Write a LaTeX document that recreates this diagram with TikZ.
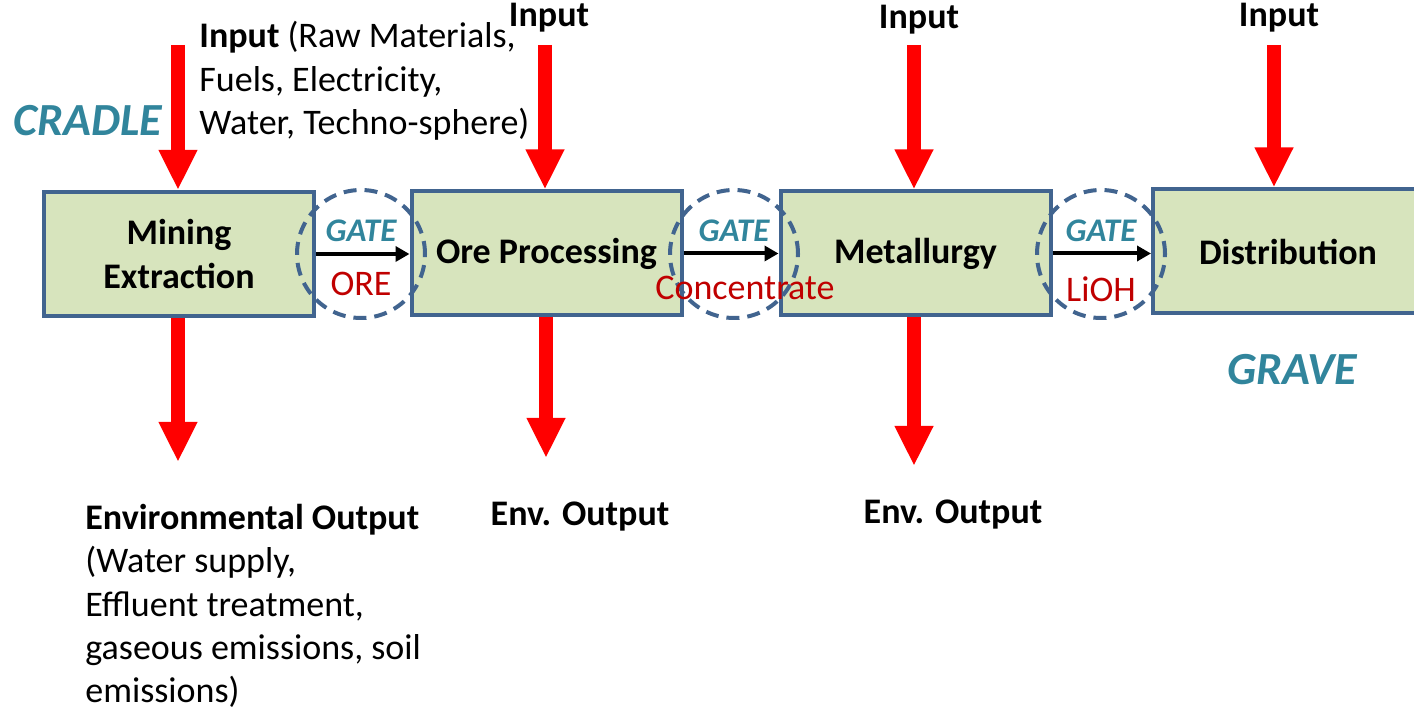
\documentclass[tikz,border=0pt]{standalone}
\usepackage{fontspec}
\setmainfont{Carlito}
\usetikzlibrary{arrows.meta}
\definecolor{boxgreen}{HTML}{D7E4BD}
\definecolor{boxblue}{HTML}{41648F}
\definecolor{gateteal}{HTML}{31859C}
\definecolor{gatered}{HTML}{C00000}
\newcommand\bodysize{\fontsize{18}{21.7}\selectfont}
\tikzset{
  stage/.style={shape=rectangle, draw=boxblue, fill=boxgreen, line width=2pt,
    minimum width=135pt, minimum height=62pt, align=center, font=\bodysize\bfseries},
  gatering/.style={shape=circle, draw=boxblue, line width=2pt,
    dash pattern=on 6.5pt off 4pt, minimum size=64pt},
  flow/.style={-{Triangle[length=20pt,width=18pt]}, line width=7pt, red},
  product/.style={-{Triangle[length=7pt,width=7.5pt]}, line width=2pt, black},
  gatetext/.style={font=\fontsize{16.5}{19}\selectfont\bfseries\itshape, text=gateteal},
  prodtext/.style={font=\bodysize, text=gatered},
  phase/.style={font=\fontsize{23}{27}\selectfont\bfseries\itshape, text=gateteal},
  note/.style={font=\bodysize, anchor=west, align=left, inner sep=0pt},
  heading/.style={font=\bodysize\bfseries}
}
\begin{document}
\begin{tikzpicture}[x=0.5pt, y=-0.5pt]
  \useasboundingbox (0,0) rectangle (1414,710);

  \node[stage] (mining) at (179,254) {Mining\\Extraction};
  \node[stage] (oreproc) at (546.5,253.5) {Ore Processing};
  \node[stage] (metal) at (915.5,253.5) {Metallurgy};
  \node[stage] (distrib) at (1288,251.5) {Distribution};

  \node[gatering] (gate1) at (361,254) {};
  \node[gatering] (gate2) at (734,254) {};
  \node[gatering] (gate3) at (1101,254) {};

  \draw[product] (mining.east) to (mining.east -| oreproc.west);
  \draw[product] (oreproc.east) to (oreproc.east -| metal.west);
  \draw[product] (metal.east) to (metal.east -| distrib.west);

  \node[gatetext] (gatelabel1) at (361,231) {GATE};
  \node[gatetext] (gatelabel2) at (734,231) {GATE};
  \node[gatetext] (gatelabel3) at (1101,231) {GATE};
  \node[prodtext] (ore) at (361,284) {ORE};
  \node[prodtext] (conc) at (745,288) {Concentrate};
  \node[prodtext] (lioh) at (1101,289) {LiOH};

  \coordinate (in1) at (178,45);
  \coordinate (in2) at (545,45);
  \coordinate (in3) at (914,45);
  \coordinate (in4) at (1274,45);
  \draw[flow] (in1) -- (in1 |- mining.north);
  \draw[flow] (in2) -- (in2 |- oreproc.north);
  \draw[flow] (in3) -- (in3 |- metal.north);
  \draw[flow] (in4) -- (in4 |- distrib.north);

  \coordinate (out1) at (178,462);
  \coordinate (out2) at (546,458);
  \coordinate (out3) at (914,466);
  \draw[flow] (out1 |- mining.south) -- (out1);
  \draw[flow] (out2 |- oreproc.south) -- (out2);
  \draw[flow] (out3 |- metal.south) -- (out3);

  \node[note] (inputnote) at (199,81) {\textbf{Input} (Raw Materials,\\Fuels, Electricity,\\Water, Techno-sphere)};
  \node[heading] (input2) at (549,18) {Input};
  \node[heading] (input3) at (919,20) {Input};
  \node[heading] (input4) at (1279,18) {Input};

  \node[phase] (cradle) at (88,121) {CRADLE};
  \node[phase] (grave) at (1292,370) {GRAVE};

  \node[note] (envnote) at (85,606) {\textbf{Environmental Output}\\(Water supply,\\Effluent treatment,\\gaseous emissions, soil\\emissions)};
  \node[heading] (env2) at (580,517) {Env. Output};
  \node[heading] (env3) at (953,515) {Env. Output};
\end{tikzpicture}
\end{document}
